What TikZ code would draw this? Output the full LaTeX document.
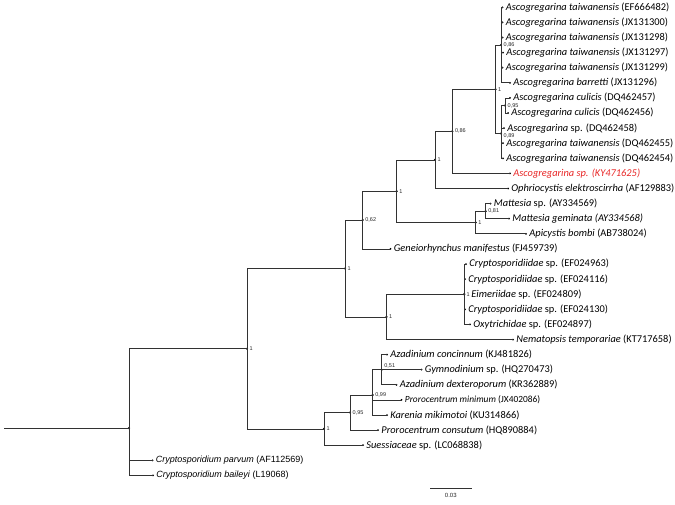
\documentclass[tikz,border=0pt]{standalone}
\usepackage{fontspec}
\setmainfont{Carlito}
\newfontfamily\arialfont{Liberation Sans}
\usetikzlibrary{positioning, calc}
\definecolor{kyred}{RGB}{232,38,38}
\definecolor{brgray}{RGB}{50,50,50}

\begin{document}
\begin{tikzpicture}[x=1pt, y=-1pt,
  br/.style={draw=brgray, line width=0.8pt},
  nd/.style={circle, fill=black, inner sep=0pt, minimum size=2.4pt},
  tip/.style={circle, fill=black, inner sep=0pt, minimum size=2pt},
  tax/.style={anchor=west, inner sep=0pt, font=\fontsize{10.4}{12}\selectfont},
  bs/.style={font=\arialfont\fontsize{5.5}{6}\selectfont, inner sep=0.5pt, text=black!85}]
  \useasboundingbox (0,0) rectangle (675,504);
  \foreach \i/\x/\txt in {
    0/502.5/{\textit{Ascogregarina taiwanensis} (EF666482)},
    1/502.5/{\textit{Ascogregarina taiwanensis} (JX131300)},
    2/502.5/{\textit{Ascogregarina taiwanensis} (JX131298)},
    3/503/{\textit{Ascogregarina taiwanensis} (JX131297)},
    4/502.5/{\textit{Ascogregarina taiwanensis} (JX131299)},
    5/510/{\textit{Ascogregarina barretti} (JX131296)},
    6/510/{\textit{Ascogregarina culicis} (DQ462457)},
    7/508/{\textit{Ascogregarina culicis} (DQ462456)},
    8/504/{\textit{Ascogregarina} sp. (DQ462458)},
    9/503/{\textit{Ascogregarina taiwanensis} (DQ462455)},
    10/503/{\textit{Ascogregarina taiwanensis} (DQ462454)},
    11/510/{\color{kyred}\textit{Ascogregarina sp. (KY471625)}},
    12/508/{\textit{Ophriocystis elektroscirrha} (AF129883)},
    13/490.5/{\textit{Mattesia} sp. (AY334569)},
    14/509/{\textit{Mattesia geminata (AY334568)}},
    15/526/{\textit{Apicystis bombi} (AB738024)},
    16/390.5/{\textit{Geneiorhynchus manifestus} (FJ459739)},
    17/466/{\textit{Cryptosporidiidae} sp. (EF024963)},
    18/465/{\textit{Cryptosporidiidae} sp. (EF024116)},
    19/464.5/{\hspace{3.5pt}\textit{Eimeriidae} sp. (EF024809)},
    20/465/{\textit{Cryptosporidiidae} sp. (EF024130)},
    21/470/{\textit{Oxytrichidae} sp. (EF024897)},
    22/513/{\textit{Nematopsis temporariae} (KT717658)},
    23/387/{\textit{Azadinium concinnum} (KJ481826)},
    24/421.5/{\textit{Gymnodinium} sp. (HQ270473)},
    25/396.5/{\textit{Azadinium dexteroporum} (KR362889)},
    26/401.5/{\fontsize{9.4}{11}\selectfont\textit{Prorocentrum minimum} (JX402086)},
    27/387/{\textit{Karenia mikimotoi} (KU314866)},
    28/378/{\textit{Prorocentrum consutum} (HQ890884)},
    29/363/{\textit{Suessiaceae} sp. (LC068838)},
    30/152.5/{\arialfont\fontsize{9}{10}\selectfont\textit{Cryptosporidium parvum} (AF112569)},
    31/153/{\arialfont\fontsize{9}{10}\selectfont\textit{Cryptosporidium baileyi} (L19068)}}{
    \node[tip] (l\i) at (\x, 7.3+15.1*\i) {};
    \node[tax, right=2pt of l\i] (t\i) {\txt};
  }
  \coordinate (r0) at (4,428.1);
  \node[nd] (rt) at (129,428.1) {};
  \node[nd] (nA) at (247,348.7) {};
  \node[nd] (nB) at (345,268.5) {};
  \node[nd] (nC) at (362.7,220) {};
  \node[nd] (nD) at (324,428.9) {};
  \node[nd] (nE) at (386.5,316.9) {};
  \node[nd] (nF) at (396.7,191.2) {};
  \node[nd] (nG) at (435,159.9) {};
  \node[nd] (nH) at (475.7,222.5) {};
  \node[nd] (nI) at (452.3,131.3) {};
  \node[nd] (nJ) at (495.5,89.3) {};
  \node[nd] (nK) at (501,45) {};
  \node[nd] (nL) at (501,133.5) {};
  \node[nd] (nM) at (505,105.5) {};
  \node[nd] (nN) at (485.7,211.2) {};
  \node[nd] (nO) at (464,294.2) {};
  \node[nd] (nP) at (350,412.5) {};
  \node[nd] (nQ) at (372.7,394.9) {};
  \node[nd] (nR) at (381.7,369.7) {};
  \draw[br] (r0) -- (rt.center);
  \foreach \p/\c in {rt/nA, rt/l30, rt/l31, nA/nB, nA/nD, nB/nC, nB/nE,
    nC/nF, nC/l16, nF/nG, nF/nH, nG/nI, nG/l12, nI/nJ, nI/l11, nJ/nK, nJ/nL,
    nK/l0, nK/l1, nK/l2, nK/l3, nK/l4, nK/l5, nL/nM, nL/l8, nL/l9, nL/l10,
    nM/l6, nM/l7, nH/nN, nH/l15, nN/l13, nN/l14, nE/nO, nE/l22,
    nO/l17, nO/l18, nO/l19, nO/l20, nO/l21, nD/nP, nD/l29, nP/nQ, nP/l28,
    nQ/nR, nQ/l26, nQ/l27, nR/l23, nR/l24, nR/l25}
    \draw[br] (\p.center) |- (\c.center);
  \foreach \n/\v in {nA/1, nB/1, nC/{0,62}, nD/1, nE/1, nF/1, nG/1, nH/1,
    nI/{0,86}, nJ/1, nK/{0,86}, nM/{0,95}, nN/{0,81}, nO/1,
    nP/{0,95}, nQ/{0,99}}
    \node[bs, right=0.6pt of \n] (s\n) {\v};
  \node[bs, right=0.6pt of nL, yshift=-2pt] (snL) {0,89};
  \node[bs, above right=0.2pt and 1pt of nR] (snR) {0,51};
  \coordinate (sb0) at (430,488.3);
  \coordinate (sb1) at (471.5,488.3);
  \coordinate (sbm) at ($(sb0)!0.5!(sb1)$);
  \draw[br] (sb0) -- (sb1);
  \node[bs, font=\arialfont\fontsize{6}{7}\selectfont, below=4pt of sbm] (sbl) {0.03};
\end{tikzpicture}
\end{document}
